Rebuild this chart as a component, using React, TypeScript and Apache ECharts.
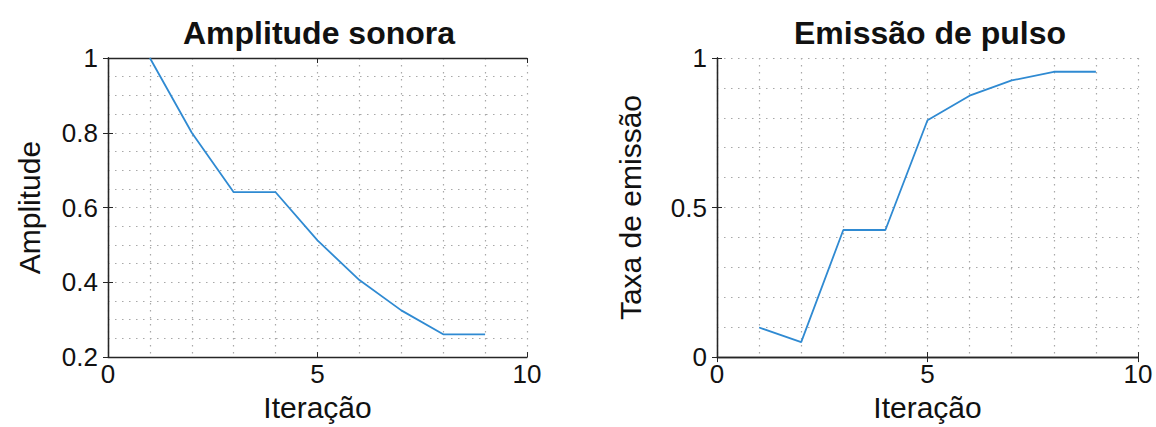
import React, { useEffect, useRef } from "react";
import * as echarts from "echarts";

const iterations = [1, 2, 3, 4, 5, 6, 7, 8, 9];
const amplitude = [1.0, 0.8, 0.641, 0.641, 0.512, 0.406, 0.325, 0.261, 0.261];
const emissionRate = [0.099, 0.05, 0.425, 0.425, 0.792, 0.874, 0.925, 0.954, 0.954];
const titles = ["Amplitude sonora", "Emissão de pulso"];
const yNames = ["Amplitude", "Taxa de emissão"];
const xName = "Iteração";

const FONT = "'Liberation Sans', Arial, Helvetica, sans-serif";
const TXT = "#111";
const GRIDC = "#a8a8a8";
const LINEC = "#2f8ad2";

export default function App() {
  const ref = useRef<HTMLDivElement>(null);
  useEffect(() => {
    if (!ref.current) return;
    const chart = echarts.init(ref.current, undefined, { renderer: "svg" });
    const dotted = { color: GRIDC, width: 1.2, type: [1.5, 5.5] as any };
    const mkX = (gi: number, pos: "bottom" | "top") => ({
      type: "value",
      gridIndex: gi,
      position: pos,
      min: 0,
      max: 10,
      interval: 5,
      name: pos === "bottom" ? xName : "",
      nameLocation: "middle",
      nameGap: 33,
      nameTextStyle: { fontFamily: FONT, fontSize: 30, color: TXT },
      axisLine: { show: true, lineStyle: { color: "#262626", width: 1.3 } },
      axisTick: { show: true, inside: true, length: 5, lineStyle: { color: "#262626" } },
      axisLabel: {
        show: pos === "bottom",
        fontFamily: FONT,
        fontSize: 26,
        color: TXT,
        margin: 4,
      },
      splitLine: { show: pos === "bottom", lineStyle: dotted },
      minorTick: { show: false, splitNumber: 5 },
      minorSplitLine: { show: pos === "bottom", lineStyle: dotted },
    });
    const mkY = (
      gi: number,
      pos: "left" | "right",
      min: number,
      max: number,
      interval: number,
      minorSplit: number,
      name: string,
      gap: number
    ) => ({
      type: "value",
      gridIndex: gi,
      position: pos,
      min,
      max,
      interval,
      name: pos === "left" ? name : "",
      nameLocation: "middle",
      nameGap: gap,
      nameTextStyle: { fontFamily: FONT, fontSize: 30, color: TXT },
      axisLine: { show: true, lineStyle: { color: "#262626", width: 1.3 } },
      axisTick: { show: true, inside: true, length: 5, lineStyle: { color: "#262626" } },
      axisLabel: {
        show: pos === "left",
        fontFamily: FONT,
        fontSize: 26,
        color: TXT,
        margin: 10,
      },
      splitLine: { show: pos === "left", lineStyle: dotted },
      minorTick: { show: false, splitNumber: minorSplit },
      minorSplitLine: { show: pos === "left", lineStyle: dotted },
    });
    chart.setOption({
      animation: false,
      backgroundColor: "#ffffff",
      title: [
        {
          text: titles[0],
          left: 314,
          top: 12,
          textAlign: "center",
          textStyle: { fontFamily: FONT, fontSize: 32, fontWeight: "bold", color: TXT },
        },
        {
          text: titles[1],
          left: 925,
          top: 12,
          textAlign: "center",
          textStyle: { fontFamily: FONT, fontSize: 32, fontWeight: "bold", color: TXT },
        },
      ],
      grid: [
        { left: 108, top: 58, width: 419, height: 305 },
        { left: 717, top: 58, width: 421, height: 305 },
      ],
      xAxis: [mkX(0, "bottom"), mkX(0, "top"), mkX(1, "bottom"), mkX(1, "top")],
      yAxis: [
        mkY(0, "left", 0.2, 1, 0.2, 4, yNames[0], 64),
        mkY(0, "right", 0.2, 1, 0.2, 4, "", 0),
        mkY(1, "left", 0, 1, 0.5, 5, yNames[1], 72),
        mkY(1, "right", 0, 1, 0.5, 5, "", 0),
      ],
      series: [
        {
          type: "line",
          xAxisIndex: 0,
          yAxisIndex: 0,
          data: iterations.map((x, i) => [x, amplitude[i]]),
          showSymbol: false,
          lineStyle: { color: LINEC, width: 1.8 },
        },
        {
          type: "line",
          xAxisIndex: 2,
          yAxisIndex: 2,
          data: iterations.map((x, i) => [x, emissionRate[i]]),
          showSymbol: false,
          lineStyle: { color: LINEC, width: 1.8 },
        },
      ],
    });
    return () => chart.dispose();
  }, []);
  return (
    <div
      ref={ref}
      style={{ position: "absolute", left: 0, top: 0, width: 1156, height: 427 }}
    />
  );
}
